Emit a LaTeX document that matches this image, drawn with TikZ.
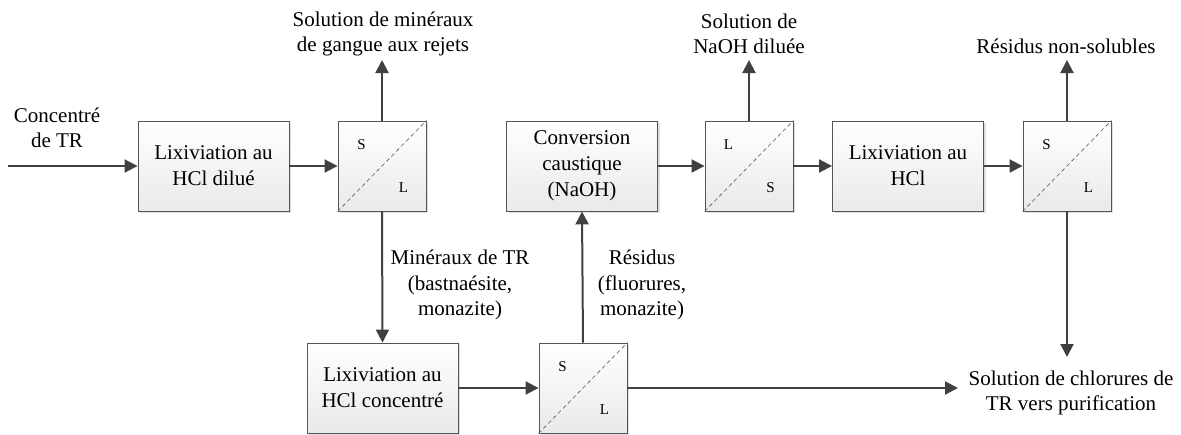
\documentclass[tikz,border=0pt]{standalone}
\usepackage{fontspec}
\setmainfont{Liberation Serif}
\usetikzlibrary{arrows.meta,shadows}
\definecolor{ln}{HTML}{404040}
\definecolor{bd}{HTML}{555555}
\tikzset{
  boxbase/.style={draw=bd, line width=0.9pt, top color=white, bottom color=gray!17,
    drop shadow={shadow xshift=2pt, shadow yshift=-2pt, opacity=0.25, fill=gray},
    minimum height=90pt, inner sep=0pt},
  proc/.style={boxbase, minimum width=151pt, align=center,
    font=\fontsize{21}{26}\selectfont},
  sepbox/.style={boxbase, minimum width=88pt},
  sl/.style={font=\fontsize{15}{18}\selectfont, inner sep=0pt},
  diag/.style={draw=bd, dashed, line width=0.6pt, dash pattern=on 4pt off 3pt},
  flow/.style={draw=ln, line width=2pt, -{Triangle[length=13pt,width=13pt]}},
  lbl/.style={align=center, inner sep=0pt, font=\fontsize{21}{25.5}\selectfont}
}
\begin{document}
\begin{tikzpicture}[x=1pt,y=-1pt]
\useasboundingbox (0,0) rectangle (1181,434);
% process boxes
\node[proc] (b1) at (213.5,166) {Lixiviation au\\HCl dilué};
\node[sepbox] (s1) at (382,166) {};
\node[proc] (b2) at (582,166) {Conversion\\caustique\\(NaOH)};
\node[sepbox] (s2) at (749,166) {};
\node[proc] (b3) at (908,166) {Lixiviation au\\HCl};
\node[sepbox] (s3) at (1067,166) {};
\node[proc] (b4) at (382.5,388) {Lixiviation au\\HCl concentré};
\node[sepbox] (s4) at (583,388) {};
% separator diagonals and labels
\foreach \s/\a/\b in {s1/S/L, s2/L/S, s3/S/L, s4/S/L}{
  \draw[diag] (\s.south west) -- (\s.north east);
  \node[sl] (\s-a) at ([shift={(24,24)}]\s.north west) {\a};
  \node[sl] (\s-b) at ([shift={(66,67)}]\s.north west) {\b};
}
% labels
\node[lbl] (in) at (57,128) {Concentré\\de TR};
\node[lbl] (t1) at (383,34) {Solution de minéraux\\de gangue aux rejets};
\node[lbl] (t2) at (749,34) {Solution de\\NaOH diluée};
\node[lbl] (t3) at (1066,46) {Résidus non-solubles};
\node[lbl] (t4) at (460,285) {Minéraux de TR\\(bastnaésite,\\monazite)};
\node[lbl] (t5) at (642,285) {Résidus\\(fluorures,\\monazite)};
\node[lbl] (fin) at (1071,393) {Solution de chlorures de\\TR vers purification};
% free ends
\coordinate (start) at (8,166);
\coordinate (o1) at (382,60);
\coordinate (o2) at (749,60);
\coordinate (o3) at (1067,60);
\coordinate (f1) at (1067,357);
\coordinate (f2) at (958,388);
% connectors
\draw[flow] (start) -- (b1);
\draw[flow] (b1) -- (s1);
\draw[flow] (s1.north) -- (o1);
\draw[flow] (s1.south) -- (b4.north);
\draw[flow] (b4) -- (s4);
\draw[flow] (s4.north) -- (b2.south);
\draw[flow] (s4.east) -- (f2);
\draw[flow] (b2) -- (s2);
\draw[flow] (s2.north) -- (o2);
\draw[flow] (s2) -- (b3);
\draw[flow] (b3) -- (s3);
\draw[flow] (s3.north) -- (o3);
\draw[flow] (s3.south) -- (f1);
\end{tikzpicture}
\end{document}
